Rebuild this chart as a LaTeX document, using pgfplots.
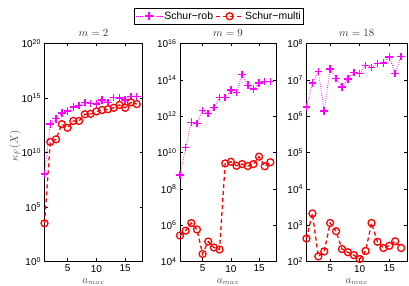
\documentclass[border=0pt]{standalone}
\usepackage{fontspec}
\setmainfont{Liberation Sans}
\usepackage{pgfplots}
\pgfplotsset{compat=1.18}
\definecolor{mag}{rgb}{1,0,1}
\definecolor{rd}{rgb}{1,0,0}
\pgfplotsset{
  every axis/.append style={
    scale only axis, height=218pt, ymode=log,
    xmin=1, xmax=18, xtick={5,10,15}, xticklabels={5,10,15},
    tick align=inside, major tick length=3pt,
    yminorticks=false,
    axis line style={line width=0.8pt},
    every tick/.style={black, line width=0.6pt},
    tick label style={font=\fontsize{10}{11}\selectfont},
    title style={font=\fontsize{10.5}{11}\selectfont, text=black!80, yshift=-2.5pt},
    xlabel={$a_{max}$},
    xlabel style={font=\fontsize{10.5}{11}\selectfont, text=black!70, at={(axis description cs:0.5,-0.092)}, anchor=center},
    clip=false,
  },
  myrob/.style={mag, dash pattern=on 0.8pt off 1.4pt, line width=0.8pt, mark=+, mark size=3.8pt, mark options={solid, mag, line width=1.5pt}},
  mymulti/.style={rd, dash pattern=on 4pt off 3pt, line width=1.3pt, mark=o, mark size=3.5pt, mark options={solid, rd, line width=1.3pt}},
}
\begin{document}
\begin{tikzpicture}
\useasboundingbox (0,0) rectangle (409pt,286pt);
% Panel 1
\begin{axis}[at={(44.5pt,24.5pt)}, anchor=south west, width=98pt,
  ymin=1, ymax=1e20, ytick={1,1e5,1e10,1e15,1e20},
  yticklabels={10\textsuperscript{0},10\textsuperscript{5},10\textsuperscript{10},10\textsuperscript{15},10\textsuperscript{20}},
  title={$m=2$},
  ylabel={$\kappa_F(X)$},
  ylabel style={font=\fontsize{10.5}{11}\selectfont, text=black!70, at={(axis description cs:-0.30,0.53)}, anchor=center},
]
\addplot[myrob] coordinates {(1,1.1e8)(2,4.0e12)(3,1.26e13)(4,4.0e13)(5,6.3e13)(6,1.45e14)(7,2.0e14)(8,4.0e14)(9,3.2e14)(10,2.95e14)(11,6.3e14)(12,4.0e14)(13,1.12e15)(14,1.0e15)(15,6.9e14)(16,1.41e15)(17,1.41e15)};
\addplot[mymulti] coordinates {(1,3.2e3)(2,9.3e10)(3,1.6e11)(4,4.0e12)(5,1.86e12)(6,7.9e12)(7,7.9e12)(8,3.2e13)(9,3.5e13)(10,5.8e13)(11,7.9e13)(12,9.3e13)(13,1.26e14)(14,2.3e14)(15,1.26e14)(16,4.0e14)(17,2.75e14)};
\end{axis}
% Panel 2
\begin{axis}[at={(180pt,24.5pt)}, anchor=south west, width=96pt,
  ymin=1e4, ymax=1e16, ytick={1e4,1e6,1e8,1e10,1e12,1e14,1e16},
  yticklabels={10\textsuperscript{4},10\textsuperscript{6},10\textsuperscript{8},10\textsuperscript{10},10\textsuperscript{12},10\textsuperscript{14},10\textsuperscript{16}},
  title={$m=9$},
  legend columns=2,
  legend style={at={(axis description cs:0.405,1.125)}, anchor=center, font=\fontsize{10.5}{11}\selectfont, draw=black, line width=0.7pt, inner xsep=1pt, inner ysep=1.5pt, /tikz/every even column/.append style={column sep=1pt}, /tikz/every odd column/.append style={column sep=0pt}, nodes={inner xsep=1.5pt}},
  legend image code/.code={\draw[mark repeat=2,mark phase=2] plot coordinates {(0pt,0pt)(13.3pt,0pt)(26.6pt,0pt)};},
]
\addplot[myrob] coordinates {(1,5.8e8)(2,1.9e10)(3,4.6e11)(4,4.0e11)(5,2.0e12)(6,1.4e12)(7,3.0e12)(8,1.07e13)(9,1.07e13)(10,2.7e13)(11,2.0e13)(12,2.0e14)(13,5.0e13)(14,3.1e13)(15,6.6e13)(16,7.9e13)(17,7.9e13)};
\addlegendentry{Schur−rob}
\addplot[mymulti] coordinates {(1,2.7e5)(2,5.0e5)(3,1.3e6)(4,5.8e5)(5,2.6e4)(6,1.26e5)(7,5.9e4)(8,4.6e4)(9,2.5e9)(10,3.1e9)(11,1.86e9)(12,2.3e9)(13,1.8e9)(14,2.3e9)(15,5.9e9)(16,1.74e9)(17,2.9e9)};
\addlegendentry{Schur−multi}
\end{axis}
% Panel 3
\begin{axis}[at={(306.5pt,24.5pt)}, anchor=south west, width=100.5pt,
  ymin=1e2, ymax=1e8, ytick={1e2,1e3,1e4,1e5,1e6,1e7,1e8},
  yticklabels={10\textsuperscript{2},10\textsuperscript{3},10\textsuperscript{4},10\textsuperscript{5},10\textsuperscript{6},10\textsuperscript{7},10\textsuperscript{8}},
  title={$m=18$},
]
\addplot[myrob] coordinates {(1,1.78e6)(2,8.3e6)(3,1.7e7)(4,1.38e6)(5,2.0e7)(6,1.1e7)(7,6.3e6)(8,1.07e7)(9,1.58e7)(10,1.5e7)(11,2.5e7)(12,2.2e7)(13,2.8e7)(14,2.95e7)(15,4.3e7)(16,1.5e7)(17,4.4e7)};
\addplot[mymulti] coordinates {(1,430)(2,2100)(3,138)(4,190)(5,1150)(6,680)(7,220)(8,180)(9,150)(10,117)(11,195)(12,1150)(13,350)(14,235)(15,270)(16,360)(17,235)};
\end{axis}
\end{tikzpicture}
\end{document}
